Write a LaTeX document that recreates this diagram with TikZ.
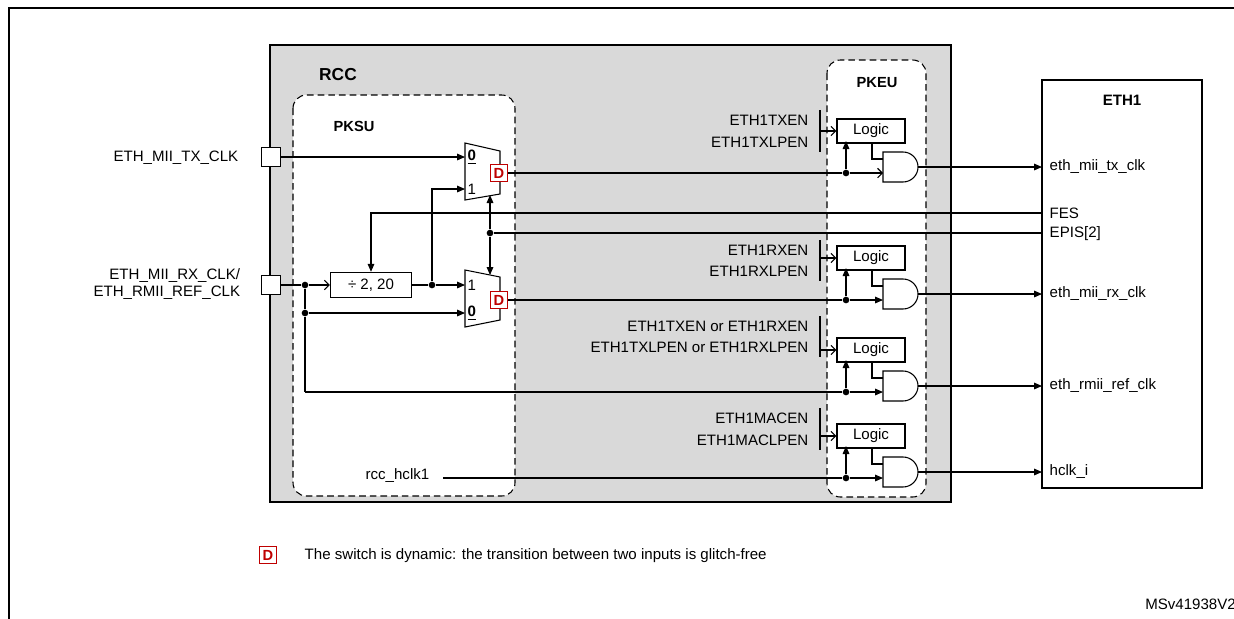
\documentclass[tikz,border=0pt]{standalone}
\usepackage{fontspec}
\setmainfont{Liberation Sans}
\usetikzlibrary{arrows.meta}
\begin{document}
\begin{tikzpicture}[x=0.75pt,y=-0.75pt,
  font=\fontsize{11.3}{13}\selectfont,
  ln/.style={line width=0.8pt},
  fa/.style={ln,-{Triangle[length=6pt,width=5pt]}},
  oa/.style={ln,-{Straight Barb[length=3.5pt,width=7pt]}},
  dot/.style={circle,fill,inner sep=0pt,minimum size=5pt},
  dbox/.style={draw=red!75!black,line width=0.8pt,text=red!75!black,font=\fontsize{11}{12}\selectfont\bfseries,minimum width=13pt,minimum height=13pt,inner sep=0pt,fill=white},
  pad/.style={draw,ln,fill=white,minimum size=14pt,inner sep=0pt},
  logicbox/.style={draw,ln,fill=white,minimum width=51pt,minimum height=18pt,inner sep=0pt},
  dsh/.style={ln,dashed,dash pattern=on 5pt off 3pt,rounded corners=10pt,fill=white}]
\useasboundingbox (0,0) rectangle (1234,618);
\fill[white] (0,0) rectangle (1234,618);
\draw[line width=1.2pt] (9,8) rectangle (1250,640);
% RCC
\draw[line width=1.8pt,fill=black!15] (270,45) rectangle (951,502);
\node[font=\fontsize{13}{15}\selectfont\bfseries] (rcc) at (338,75) {RCC};
\draw[dsh] (293,95) rectangle (515,496);
\node[font=\fontsize{11}{13}\selectfont\bfseries] (pksu) at (354,126) {PKSU};
\draw[dsh] (827,60) rectangle (926,497);
\node[font=\fontsize{11}{13}\selectfont\bfseries] (pkeu) at (877,83) {PKEU};
% ETH1
\draw[line width=1.3pt,fill=white] (1042,80) rectangle (1202,488);
\node[font=\fontsize{11.3}{13}\selectfont\bfseries] (eth) at (1122,100) {ETH1};
% pads
\node[pad] (ptx) at (271,157) {};
\node[pad] (prx) at (271,285) {};
\node[anchor=east] (ltx) at (243,158) {ETH\_MII\_TX\_CLK};
\node[anchor=east,align=right,inner sep=2pt] (lrx) at (243,284) {ETH\_MII\_RX\_CLK/\\ETH\_RMII\_REF\_CLK};
% muxes
\draw[ln,fill=white] (465,143) -- (500,151) -- (500,194) -- (465,200) -- cycle;
\draw[ln,fill=white] (465,270) -- (500,277) -- (500,320) -- (465,327) -- cycle;
\node[anchor=west,inner sep=1pt] at (466,157) {\bfseries\underline{0}};
\node[anchor=west,inner sep=1pt] at (466,189) {1};
\node[anchor=west,inner sep=1pt] at (466,285) {1};
\node[anchor=west,inner sep=1pt] at (466,313) {\bfseries\underline{0}};
\node[dbox] (d1) at (499,173) {D};
\node[dbox] (d2) at (499,300) {D};
\coordinate (m1a) at (465,157);
\coordinate (m1b) at (465,189);
\coordinate (m2a) at (465,285);
\coordinate (m2b) at (465,313);
% divider
\node[draw,ln,fill=white,minimum width=61pt,minimum height=19pt,inner sep=0pt] (div) at (371,285) {÷ 2, 20};
\node[dot] (j1) at (305,285) {};
\node[dot] (j2) at (305,313) {};
\node[dot] (j3) at (432,285) {};
\node[dot] (js) at (490,233) {};
\draw[fa] (ptx.east) -- (m1a);
\draw[ln] (prx.east) -- (j1);
\draw[oa] (j1) -- (div.west);
\draw[ln] (div.east) -- (j3);
\draw[fa] (j3) -- (m2a);
\draw[fa] (j3) |- (m1b);
\draw[ln] (j1) -- (j2);
\draw[fa] (j2) -- (m2b);
\coordinate (rmii) at (305,392);
\draw[ln] (j2) -- (rmii);
% select lines
\coordinate (fes) at (1042,213);
\coordinate (epis) at (1042,233);
\draw[fa] (fes) -| (div.north);
\draw[ln] (epis) -- (js);
\draw[fa] (js) -- (490,195);
\draw[fa] (js) -- (490,275);
\node[anchor=west] at (1045,213) {FES};
\node[anchor=west] at (1045,234) {EPIS[2]};
\node[anchor=east] (hc) at (434,476) {rcc\_hclk1};
% PKEU groups
\foreach \i/\s/\ta/\tb/\ya/\yb/\out in {
  1/173/ETH1TXEN/ETH1TXLPEN/120/142/eth\_mii\_tx\_clk,
  2/300/ETH1RXEN/ETH1RXLPEN/250/271/eth\_mii\_rx\_clk,
  3/392/ETH1TXEN or ETH1RXEN/ETH1TXLPEN or ETH1RXLPEN/326/347/eth\_rmii\_ref\_clk,
  4/478/ETH1MACEN/ETH1MACLPEN/418/440/hclk\_i}{
  \node[logicbox] (lg\i) at (871,\s-42) {Logic};
  \draw[ln,fill=white] (883,\s-21) -- (903,\s-21) arc(-90:90:15) -- (883,\s+9) -- cycle;
  \coordinate (ai\i) at (883,\s);
  \coordinate (ao\i) at (918,\s-6);
  \coordinate (ei\i) at (1042,\s-6);
  \coordinate (bt\i) at (820,\s-42);
  \draw[ln] (820,\ya-10) -- (820,\yb+10);
  \draw[oa] (bt\i) -- (lg\i.west);
  \node[anchor=east] at (813,\ya) {\ta};
  \node[anchor=east] at (813,\yb) {\tb};
  \node[dot] (jj\i) at (846,\s) {};
  \draw[fa] (jj\i) -- (846,\s-32);
  \draw[ln] (lg\i.south -| 872,0) |- (883,\s-14);
  \draw[fa] (ao\i) -- (ei\i);
  \node[anchor=west] at (1045,\s-6) {\out};
}
\draw[ln] (d1.east) -- (jj1);
\draw[oa] (jj1) -- (ai1);
\draw[ln] (d2.east) -- (jj2);
\draw[fa] (jj2) -- (ai2);
\draw[ln] (rmii) -- (jj3);
\draw[fa] (jj3) -- (ai3);
\draw[ln] (443,478) -- (jj4);
\draw[fa] (jj4) -- (ai4);
% legend
\node[dbox] (dl) at (268,555) {D};
\node[anchor=west] (lt) at (300,556) {The switch is dynamic: the transition between two inputs is glitch-free};
\node[anchor=east,inner sep=0pt] (ms) at (1236,604) {MSv41938V2};
\end{tikzpicture}
\end{document}
